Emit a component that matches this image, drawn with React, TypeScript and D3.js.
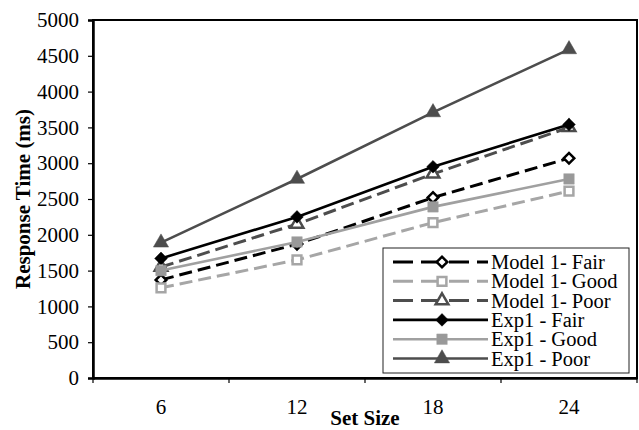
import React, { useEffect, useRef } from 'react';
import * as d3 from 'd3';

const categories = ['6', '12', '18', '24'];
const model1Fair = [1370, 1870, 2520, 3070];
const model1Good = [1260, 1650, 2170, 2610];
const model1Poor = [1550, 2150, 2850, 3500];
const exp1Fair = [1670, 2250, 2950, 3540];
const exp1Good = [1500, 1900, 2390, 2780];
const exp1Poor = [1890, 2780, 3710, 4590];
const yTicks = d3.range(0, 5001, 500);

type Marker = 'diamond' | 'square' | 'triangle';

interface Series {
  name: string;
  values: number[];
  color: string;
  fill: string;
  dashed: boolean;
  marker: Marker;
}

const series: Series[] = [
  { name: 'Model 1- Fair', values: model1Fair, color: '#000000', fill: '#ffffff', dashed: true, marker: 'diamond' },
  { name: 'Model 1- Good', values: model1Good, color: '#a6a6a6', fill: '#ffffff', dashed: true, marker: 'square' },
  { name: 'Model 1- Poor', values: model1Poor, color: '#4d4d4d', fill: '#ffffff', dashed: true, marker: 'triangle' },
  { name: 'Exp1 - Fair', values: exp1Fair, color: '#000000', fill: '#000000', dashed: false, marker: 'diamond' },
  { name: 'Exp1 - Good', values: exp1Good, color: '#a0a0a0', fill: '#999999', dashed: false, marker: 'square' },
  { name: 'Exp1 - Poor', values: exp1Poor, color: '#4d4d4d', fill: '#4d4d4d', dashed: false, marker: 'triangle' },
];

const width = 639;
const height = 430;
const font = '"Liberation Serif", "Times New Roman", serif';
const fontSize = 21;

// open markers are drawn a little smaller since their stroke adds size
const symbolFor = (m: Marker, open: boolean) => {
  const k = open ? 0.7 : 1;
  return m === 'diamond'
    ? d3.symbol(d3.symbolSquare, 80 * k)
    : m === 'square'
    ? d3.symbol(d3.symbolSquare, 110 * k)
    : d3.symbol(d3.symbolTriangle, 100 * k);
};

export default function App() {
  const svgRef = useRef<SVGSVGElement | null>(null);

  useEffect(() => {
    document.body.style.margin = '0';
    if (!svgRef.current) return;
    const svg = d3.select(svgRef.current);
    svg.selectAll('*').remove();

    const margin = { top: 20, right: 2, bottom: 52, left: 93 };

    const x = d3
      .scaleBand<string>()
      .domain(categories)
      .range([margin.left, width - margin.right])
      .padding(0);

    const y = d3
      .scaleLinear()
      .domain([0, 5000])
      .range([height - margin.bottom, margin.top]);

    const cx = (i: number) => (x(categories[i]) as number) + x.bandwidth() / 2;

    // plot frame
    svg
      .append('rect')
      .attr('x', margin.left)
      .attr('y', margin.top)
      .attr('width', width - margin.right - margin.left)
      .attr('height', y(0) - margin.top)
      .attr('fill', 'none')
      .attr('stroke', '#000')
      .attr('stroke-width', 2);

    // y axis
    const yAxis = svg
      .append('g')
      .attr('transform', `translate(${margin.left},0)`)
      .call(d3.axisLeft(y).tickValues(yTicks).tickSize(5).tickPadding(9).tickFormat(d3.format('d')));
    yAxis.select('.domain').attr('stroke-width', 2.5);
    yAxis.selectAll('line').attr('stroke-width', 1.2);
    yAxis.selectAll('text').attr('font-family', font).attr('font-size', fontSize).attr('fill', '#000');

    // x axis: ticks at category boundaries, labels in the middle
    const xAxis = svg
      .append('g')
      .attr('transform', `translate(0,${y(0)})`)
      .call(d3.axisBottom(x).tickSize(0).tickPadding(21));
    xAxis.select('.domain').attr('stroke-width', 2.5);
    xAxis.selectAll('text').attr('font-family', font).attr('font-size', fontSize).attr('fill', '#000');
    const bounds = categories.map((c) => x(c) as number).concat([x.range()[1]]);
    xAxis
      .selectAll('.bound')
      .data(bounds)
      .enter()
      .append('line')
      .attr('x1', (d) => d)
      .attr('x2', (d) => d)
      .attr('y1', 0)
      .attr('y2', 5)
      .attr('stroke', '#000')
      .attr('stroke-width', 1.2);

    // axis titles
    svg
      .append('text')
      .attr('x', (margin.left + width - margin.right) / 2)
      .attr('y', 425)
      .attr('text-anchor', 'middle')
      .attr('font-family', font)
      .attr('font-weight', 'bold')
      .attr('font-size', fontSize)
      .text('Set Size');
    svg
      .append('text')
      .attr('transform', `translate(30,${(margin.top + y(0)) / 2}) rotate(-90)`)
      .attr('text-anchor', 'middle')
      .attr('font-family', font)
      .attr('font-weight', 'bold')
      .attr('font-size', fontSize)
      .text('Response Time (ms)');

    // series
    const line = d3
      .line<number>()
      .x((_, i) => cx(i))
      .y((d) => y(d));

    series.forEach((s) => {
      svg
        .append('path')
        .datum(s.values)
        .attr('fill', 'none')
        .attr('stroke', s.color)
        .attr('stroke-width', s.dashed ? 3 : 2.6)
        .attr('stroke-dasharray', s.dashed ? '13 6' : null)
        .attr('d', line);

      svg
        .selectAll(null)
        .data(s.values)
        .enter()
        .append('path')
        .attr('d', symbolFor(s.marker, s.dashed)())
        .attr(
          'transform',
          (d, i) => `translate(${cx(i)},${y(d)})${s.marker === 'diamond' ? ' rotate(45)' : ''}`
        )
        .attr('fill', s.fill)
        .attr('stroke', s.color)
        .attr('stroke-width', s.dashed ? 2.5 : 0.5);
    });

    // legend
    const lg = svg.append('g');
    lg.append('rect')
      .attr('x', 383)
      .attr('y', 248)
      .attr('width', 246)
      .attr('height', 125)
      .attr('fill', '#fff')
      .attr('stroke', '#222')
      .attr('stroke-width', 1);

    series.forEach((s, i) => {
      const ry = 262 + i * 19.3;
      lg.append('line')
        .attr('x1', 393)
        .attr('x2', 488)
        .attr('y1', ry)
        .attr('y2', ry)
        .attr('stroke', s.color)
        .attr('stroke-width', s.dashed ? 3 : 2.6)
        .attr('stroke-dasharray', s.dashed ? '20 8' : null);
      lg.append('path')
        .attr('d', symbolFor(s.marker, s.dashed)())
        .attr('transform', `translate(442,${ry})${s.marker === 'diamond' ? ' rotate(45)' : ''}`)
        .attr('fill', s.fill)
        .attr('stroke', s.color)
        .attr('stroke-width', s.dashed ? 2.5 : 0.5);
      lg.append('text')
        .attr('x', 491)
        .attr('y', ry + 7)
        .attr('font-family', font)
        .attr('font-size', 20.5)
        .text(s.name);
    });
  }, []);

  return <svg ref={svgRef} width={width} height={height} style={{ display: 'block' }} />;
}
